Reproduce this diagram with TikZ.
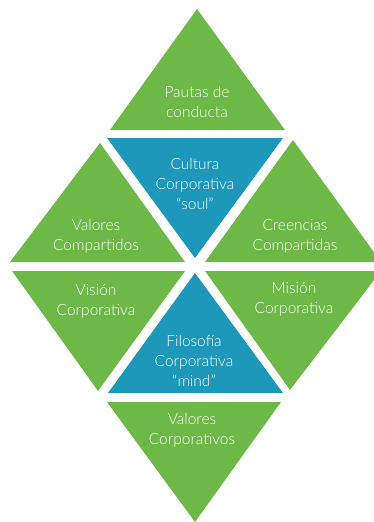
\documentclass[tikz,border=0pt]{standalone}
\usepackage{fontspec}
\setmainfont{Lato}[UprightFont={* Light}]
\definecolor{grn}{HTML}{6DB846}
\definecolor{blu}{HTML}{1E98BA}
\begin{document}
\begin{tikzpicture}[x=1pt,y=-1pt,
  gtri/.style={fill=grn},
  btri/.style={fill=blu},
  lbl/.style={text=white,align=center,font=\fontsize{15.5}{20}\selectfont,inner sep=0pt}]
\useasboundingbox (0,0) rectangle (374,522);
\clip (0,0) rectangle (374,522);
% triangles
\fill[gtri] (110,130) -- (285,130) -- (197,9) -- cycle;
\fill[btri] (107,138) -- (283,138) -- (195,258) -- cycle;
\fill[gtri] (10,262) -- (185,262) -- (100,143) -- cycle;
\fill[gtri] (205,262) -- (381,262) -- (293,140) -- cycle;
\fill[gtri] (12,271) -- (185,271) -- (98,391) -- cycle;
\fill[gtri] (205,271) -- (381,271) -- (290,390) -- cycle;
\fill[btri] (108,393) -- (283,393) -- (195,273) -- cycle;
\fill[gtri] (107,402) -- (281,402) -- (195,522) -- cycle;
% labels
\node[lbl] (pautas) at (197,102) {Pautas de\\conducta};
\node[lbl] (cultura) at (195,184) {Cultura\\Corporativa\\“soul”};
\node[lbl] (valcomp) at (96,236) {Valores\\Compartidos};
\node[lbl] (creen) at (295,236) {Creencias\\Compartidas};
\node[lbl] (vision) at (96,301) {Visión\\Corporativa};
\node[lbl] (mision) at (294,299) {Misión\\Corporativa};
\node[lbl] (filo) at (194,361) {Filosofía\\Corporativa\\“mind”};
\node[lbl] (valcorp) at (192,430) {Valores\\Corporativos};
\end{tikzpicture}
\end{document}
